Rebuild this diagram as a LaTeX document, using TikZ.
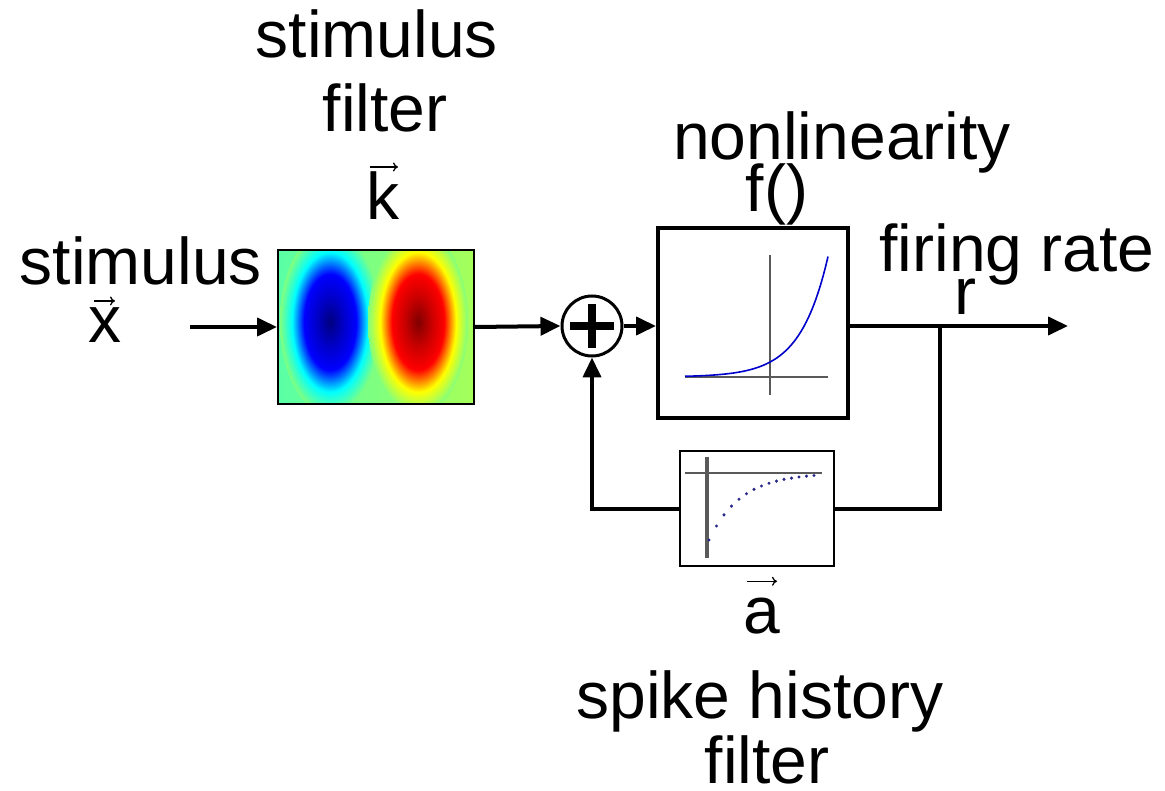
\documentclass[tikz,border=0pt]{standalone}
\usepackage{fontspec}
\setmainfont{Liberation Sans}
\usetikzlibrary{arrows.meta}

\definecolor{jetDB}{rgb}{0,0,0.5}
\definecolor{jetMB}{rgb}{0,0,0.8}
\definecolor{jetB}{rgb}{0,0,1}
\definecolor{jetC}{rgb}{0,1,1}
\definecolor{jetG}{rgb}{0.5,1,0.5}
\definecolor{jetY}{rgb}{1,1,0}
\definecolor{jetR}{rgb}{1,0,0}
\definecolor{jetMR}{rgb}{0.8,0,0}
\definecolor{jetDR}{rgb}{0.5,0,0}
\definecolor{axisGray}{HTML}{5A5A5A}
\definecolor{dotNavy}{HTML}{28288A}

\pgfdeclareradialshading{negblob}{\pgfpointorigin}{color(0bp)=(jetDB); color(7bp)=(jetMB); color(13bp)=(jetB); color(19bp)=(jetC); color(25bp)=(jetG); color(50bp)=(jetG)}
\pgfdeclareradialshading{posblob}{\pgfpointorigin}{color(0bp)=(jetDR); color(7bp)=(jetMR); color(13bp)=(jetR); color(19bp)=(jetY); color(25bp)=(jetG); color(50bp)=(jetG)}

\begin{document}
\begin{tikzpicture}[x=1pt,y=-1pt,
  lbl/.style={font=\fontsize{66}{72}\selectfont, inner sep=0pt, anchor=base},
  vecarr/.style={line width=1.3pt,-{To[length=5pt,width=9pt]}},
  wire/.style={line width=4pt},
  arr/.style={wire,-{Triangle[length=20pt,width=18pt]}}]
\useasboundingbox (0,0) rectangle (1165,791);

% stimulus filter picture
\begin{scope}
  \clip (278,250) rectangle (474,404);
  \shade[left color=jetG!70!jetC, right color=jetG!70!jetY] (278,250) rectangle (474,404);
  \shade[shading=negblob] (330,322) ellipse [x radius=50, y radius=92];
  \shade[shading=posblob] (418,322) ellipse [x radius=50, y radius=92];
\end{scope}
\node[draw, line width=2pt, minimum width=196, minimum height=154, inner sep=0pt] (kbox) at (376,327) {};

% summation
\node[draw, circle, line width=3pt, minimum size=60, inner sep=0pt] (sum) at (592,326) {};
\draw[line width=8pt] ([xshift=-22pt]sum.center) -- ([xshift=22pt]sum.center);
\draw[line width=8pt] ([yshift=-22pt]sum.center) -- ([yshift=22pt]sum.center);

% nonlinearity
\node[draw, line width=4pt, minimum width=190, minimum height=190, inner sep=0pt] (fbox) at (753,323) {};
\draw[axisGray, line width=2pt] (685,377) -- (828,377);
\draw[axisGray, line width=2pt] (770,255) -- (770,395);
\draw[blue!80!black, line width=1.6pt, domain=685:828, samples=60] plot (\x,{377-0.7*exp(0.036*(\x-685))});

% spike history filter
\node[draw, line width=2pt, minimum width=154, minimum height=115, inner sep=0pt] (abox) at (757,508.5) {};
\draw[axisGray, line width=4pt] (707,457) -- (707,558);
\draw[axisGray, line width=2.5pt] (685,473) -- (822,473);
\foreach \x in {709,716.5,...,820}
  \fill[dotNavy] (\x,{473+67*exp(-(\x-709)/32)}) circle (1.7);

% labels
\node[lbl] (stimttl) at (377,58) {stimulus};
\node[lbl] (filtttl) at (385,132) {filter};
\node[lbl] (kvec) at (383,220) {k};
\node[lbl] (stimin) at (141,285) {stimulus};
\node[lbl] (xvec) at (105,343) {x};
\node[lbl] (nonlin) at (842,160) {nonlinearity};
\node[lbl] (fname) at (777,212) {f()};
\node[lbl] (firing) at (1017,272) {firing rate};
\node[lbl] (rlbl) at (965,315) {r};
\node[lbl] (avec) at (762,633) {a};
\node[lbl] (spike) at (760,718) {spike history};
\node[lbl] (filtbot) at (767,783) {filter};
\draw[vecarr] ([xshift=-13pt,yshift=5pt]kvec.north) -- ([xshift=15pt,yshift=5pt]kvec.north);
\draw[vecarr] ([xshift=-11pt,yshift=7pt]xvec.north) -- ([xshift=10pt,yshift=7pt]xvec.north);
\draw[vecarr] ([xshift=-15pt,yshift=16pt]avec.north) -- ([xshift=15pt,yshift=16pt]avec.north);

% connectors
\coordinate (xin) at (190,327);
\coordinate (tap) at (940,326);
\coordinate (rout) at (1068,326);
\draw[arr] (xin) -- (kbox.west);
\draw[arr] (kbox.east) -- (sum.west);
\draw[arr] (sum.east) -- (sum.east -| fbox.west);
\draw[arr] (sum -| fbox.east) -- (rout);
\draw[wire] (tap) |- (abox.east);
\draw[arr] (abox.west) -| (sum.south);
\end{tikzpicture}
\end{document}
